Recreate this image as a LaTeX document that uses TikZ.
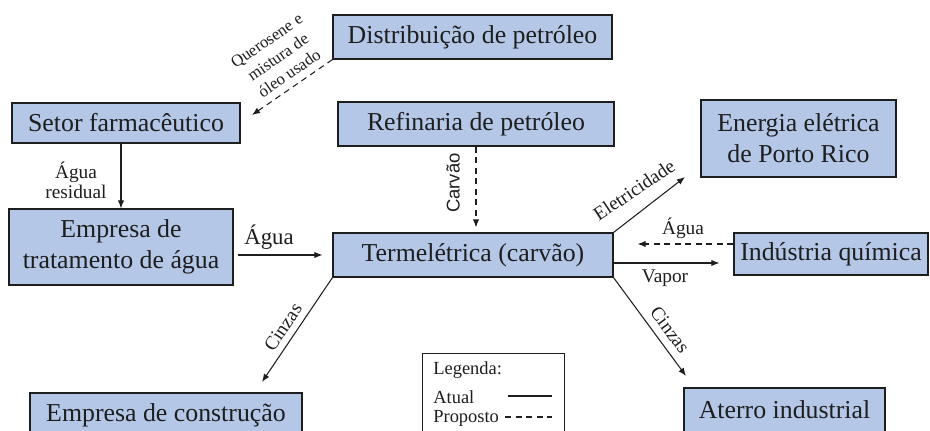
\documentclass[tikz,border=0pt]{standalone}
\usepackage{fontspec}
\setmainfont{Liberation Serif}
\newfontfamily\lserif{Liberation Serif}
\newfontfamily\lsans{Liberation Sans}
\usetikzlibrary{arrows.meta,calc}
\definecolor{boxblue}{HTML}{B4C7E7}
\definecolor{ink}{HTML}{1E1E1E}
\begin{document}
\begin{tikzpicture}[x=0.02cm,y=-0.02cm,
  box/.style={draw=ink,fill=boxblue,line width=0.65pt,inner sep=0pt,align=center,text=ink,
    font=\lserif\fontsize{14.7}{17.5}\selectfont},
  lbl/.style={font=\lserif\fontsize{11}{11.5}\selectfont,inner sep=0pt,text=ink,align=center},
  arr/.style={-{Latex[length=4.6pt,width=3.6pt]},line width=0.6pt,draw=ink},
  prop/.style={arr,dash pattern=on 3.4pt off 2.6pt}]
\useasboundingbox (0,0) rectangle (930,430);
\clip (0,0) rectangle (930,430);
\fill[white] (0,0) rectangle (930,430);

% boxes
\node[box,minimum width=5.58cm,minimum height=0.88cm] (dist) at (472.5,37) {Distribuição de petróleo};
\node[box,minimum width=5.52cm,minimum height=0.88cm] (ref) at (476,124) {Refinaria de petróleo};
\node[box,minimum width=4.56cm,minimum height=0.80cm] (setor) at (126,123) {Setor farmacêutico};
\node[box,minimum width=4.48cm,minimum height=1.52cm] (trat) at (121,247) {Empresa de\\tratamento de água};
\node[box,minimum width=5.60cm,minimum height=0.88cm] (term) at (473,255) {Termelétrica (carvão)};
\node[box,minimum width=3.90cm,minimum height=1.54cm] (ener) at (798.5,138.5) {Energia elétrica\\de Porto Rico};
\node[box,minimum width=3.88cm,minimum height=0.84cm] (ind) at (831,254) {Indústria química};
\node[box,minimum width=5.44cm,minimum height=0.88cm] (constr) at (166,415) {Empresa de construção};
\node[box,minimum width=4.02cm,minimum height=0.88cm] (aterro) at (784.5,410) {Aterro industrial};

% free ends
\coordinate (qTip) at (252,115);
\coordinate (eTip) at (685,177);
\coordinate (cTip) at (262,382);
\coordinate (aTip) at (686,376);

% connectors
\draw[prop] (dist.south west) -- (qTip);
\draw[arr] (trat.north |- setor.south) -- (trat.north);
\draw[arr,shorten <=0.08cm,shorten >=0.2cm] (trat.east |- term.west) -- (term.west);
\draw[prop,shorten >=0.1cm] (ref.south) -- (ref.south |- term.north);
\draw[arr] (term.north east) -- (eTip);
\draw[prop,shorten >=0.48cm] ([yshift=0.2cm]ind.west) -- ([yshift=0.2cm]ind.west -| term.east);
\draw[arr,shorten >=0.28cm] ([yshift=-0.16cm]term.east) -- ([yshift=-0.16cm]term.east -| ind.west);
\draw[arr] (term.south west) -- (cTip);
\draw[arr] (term.south east) -- (aTip);

% labels
\node[lbl,rotate=34.8,font=\lserif\fontsize{9.5}{11.3}\selectfont] (lq) at (278,57) {Querosene e\\mistura de\\óleo usado};
\node[lbl] (lres) at (76,180) {Água\\residual};
\node[lbl,font=\lserif\fontsize{13}{14}\selectfont] (lagua1) at (269,237) {Água};
\node[lbl,rotate=90,font=\lsans\fontsize{10.5}{12}\selectfont] (lcarv) at (453,183) {Carvão};
\node[lbl,rotate=33.7] (lelet) at (634,190) {Eletricidade};
\node[lbl] (lagua2) at (683,228) {Água};
\node[lbl] (lvap) at (665,278) {Vapor};
\node[lbl,rotate=56] (lcz1) at (283,327) {Cinzas};
\node[lbl,rotate=-53.6] (lcz2) at (670,330) {Cinzas};

% legend
\node[draw=ink,line width=0.65pt,fill=white,anchor=north west,minimum width=2.84cm,minimum height=2cm,inner sep=0pt] (leg) at (422,353) {};
\node[lbl,anchor=west,font=\lserif\fontsize{10.5}{11.5}\selectfont] (legt) at (433,370) {Legenda:};
\node[lbl,anchor=west,font=\lserif\fontsize{10.5}{11.5}\selectfont] (lega) at (433,397) {Atual};
\node[lbl,anchor=west,font=\lserif\fontsize{10.5}{11.5}\selectfont] (legp) at (433,418) {Proposto};
\draw[line width=0.6pt,draw=ink] (508,396) -- (552,396);
\draw[line width=0.6pt,draw=ink,dash pattern=on 3.4pt off 2.6pt] (505,417) -- (552,417);
\end{tikzpicture}
\end{document}
